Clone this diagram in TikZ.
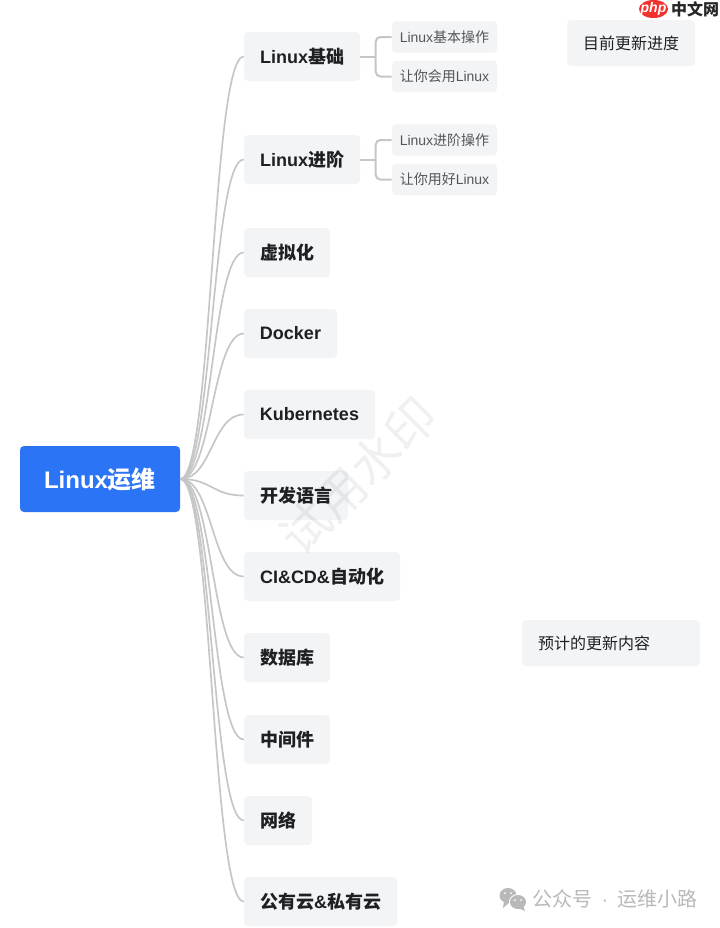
\documentclass[tikz,border=0pt]{standalone}
\usepackage{fontspec}
\setmainfont{Noto Sans CJK SC}
\newfontfamily\latinf{Liberation Sans}
\newcommand{\lat}[1]{{\latinf #1}}
\definecolor{boxg}{HTML}{F3F4F6}
\definecolor{rootb}{HTML}{2B74F6}
\definecolor{linkg}{HTML}{C6C6C6}
\definecolor{inkd}{HTML}{1F2023}
\definecolor{inks}{HTML}{55565A}
\definecolor{wxg}{HTML}{B9B9B9}
\definecolor{phpr}{HTML}{F2322F}
\tikzset{
  x=0.75pt,y=-0.75pt,
  boxbase/.style={fill=boxg,rounded corners=3pt,inner sep=0pt,align=center},
  topic/.style={boxbase,font=\fontsize{13.5pt}{16pt}\selectfont\bfseries,text=inkd,minimum height=36.75pt},
  leafbox/.style={boxbase,font=\fontsize{10.5pt}{12pt}\selectfont,text=inks,minimum height=23.6pt,minimum width=78.75pt},
  notebox/.style={boxbase,font=\fontsize{12pt}{15pt}\selectfont,text=inkd,minimum height=34.5pt},
  rootbox/.style={fill=rootb,rounded corners=3pt,inner sep=0pt,minimum width=120pt,minimum height=49.5pt,text=white,font=\fontsize{18pt}{20pt}\selectfont\bfseries},
  link/.style={draw=linkg,line width=1.25pt},
  branch/.style={draw=linkg,line width=1.5pt,rounded corners=3.5pt},
}
\newcommand{\mainlink}[1]{\draw[link] (root.east) .. controls +(32,0) and +(-32,0) .. (#1.west);}
\begin{document}
\begin{tikzpicture}
\useasboundingbox (0,0) rectangle (720,928);
\fill[white] (0,0) rectangle (720,928);

\node[rootbox] (root) at (100,479) {\lat{Linux}运维};

\node[topic,minimum width=87pt]    (t1)  at (302,56.5)  {\lat{Linux}基础};
\node[topic,minimum width=87pt]    (t2)  at (302,159.5) {\lat{Linux}进阶};
\node[topic,minimum width=64.5pt]  (t3)  at (287,252.5) {虚拟化};
\node[topic,minimum width=69.75pt] (t4)  at (290.5,333.5) {\lat{Docker}};
\node[topic,minimum width=98.25pt] (t5)  at (309.5,414.5) {\lat{Kubernetes}};
\node[topic,minimum width=78pt]    (t6)  at (296,495.5) {开发语言};
\node[topic,minimum width=117pt]   (t7)  at (322,576.5) {\lat{CI\&CD\&}自动化};
\node[topic,minimum width=64.5pt]  (t8)  at (287,657.5) {数据库};
\node[topic,minimum width=64.5pt]  (t9)  at (287,739.5) {中间件};
\node[topic,minimum width=51pt]    (t10) at (278,820.5) {网络};
\node[topic,minimum width=114.75pt](t11) at (320.5,901.5) {公有云\lat{\&}私有云};

\node[leafbox] (s1) at (444.5,37)  {\lat{Linux}基本操作};
\node[leafbox] (s2) at (444.5,76.5)  {让你会用\lat{Linux}};
\node[leafbox] (s3) at (444.5,140) {\lat{Linux}进阶操作};
\node[leafbox] (s4) at (444.5,179.5) {让你用好\lat{Linux}};

\node[notebox,minimum width=96pt]    (n1) at (631,43)  {目前更新进度};
\node[notebox,minimum width=133.5pt] (n2) at (611,643) {\hspace*{-25.5pt}预计的更新内容};

\foreach \t in {t1,t2,t3,t4,t5,t6,t7,t8,t9,t10,t11} {\mainlink{\t}}

\coordinate (j1) at ([xshift=11.6pt]t1.east);
\coordinate (j2) at ([xshift=11.6pt]t2.east);
\draw[branch] (t1.east) -- (j1);
\draw[branch] (t2.east) -- (j2);
\draw[branch] (j1) |- (s1.west);
\draw[branch] (j1) |- (s2.west);
\draw[branch] (j2) |- (s3.west);
\draw[branch] (j2) |- (s4.west);

% watermark
\node[rotate=45,text=black,font=\fontsize{37pt}{40pt}\selectfont,opacity=.06] (wm) at (358,476) {试用水印};

% php logo
\fill[phpr] (653.5,9) ellipse (14.5 and 9);
\node[text=white,font=\latinf\fontsize{10.5pt}{11pt}\selectfont\itshape\bfseries,inner sep=0pt] (phplogo) at (653.5,8.5) {php};
\node[text=black!85,font=\fontsize{12pt}{14pt}\selectfont\bfseries,inner sep=0pt] (cnlogo) at (695,9.5) {中文网};

% wechat mark
\fill[wxg] (508,895.5) ellipse (8.5 and 7.5);
\fill[wxg] (504,901) -- (503,908) -- (510,902) -- cycle;
\fill[white] (518,902) ellipse (9 and 8);
\fill[wxg] (518,902) ellipse (8 and 7);
\fill[wxg] (523,906) -- (525,911) -- (518,908) -- cycle;
\fill[white] (505,893) circle (1) (511,893) circle (1) (515,900) circle (1) (521,900) circle (1);
\node[text=wxg,font=\fontsize{15pt}{16pt}\selectfont,anchor=west,inner sep=0pt] (wxname) at (532,898.5) {公众号\hspace{7pt}\lat{·}\hspace{7pt}运维小路};
\end{tikzpicture}
\end{document}
